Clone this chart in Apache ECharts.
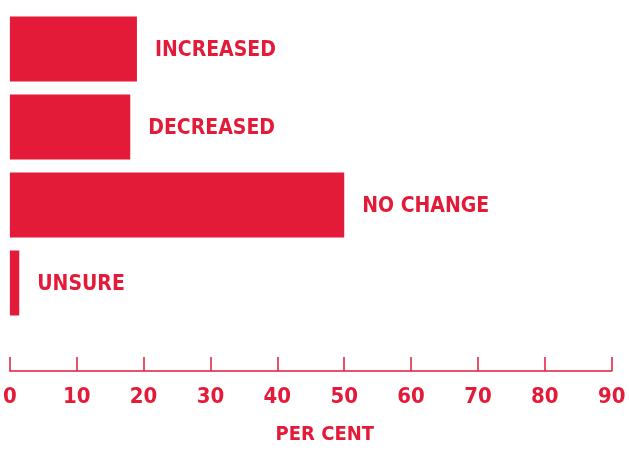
<!DOCTYPE html>
<html>
<head>
<meta charset="utf-8">
<script src="https://cdn.jsdelivr.net/npm/echarts@6/dist/echarts.min.js"></script>
<style>html,body{margin:0;padding:0;background:#fff;}#c{width:629px;height:454px;}</style>
</head>
<body>
<div id="c"></div>
<script>
const categories = ['INCREASED', 'DECREASED', 'NO CHANGE', 'UNSURE'];
const values = [19, 18, 50, 1.4];
const xTicks = [0, 10, 20, 30, 40, 50, 60, 70, 80, 90];
const axisName = 'PER CENT';

const RED = '#e31a38';
const FONT = '"Liberation Sans Narrow", "Arial Narrow", "DejaVu Sans Condensed", sans-serif';

const chart = echarts.init(document.getElementById('c'), null, {renderer: 'canvas'});
chart.setOption({
  animation: false,
  backgroundColor: '#fff',
  grid: {left: 9.7, right: 17.3, top: 10, height: 312, containLabel: false},
  xAxis: {
    type: 'value',
    min: xTicks[0], max: xTicks[xTicks.length - 1], interval: 10,
    position: 'bottom',
    offset: 49,
    name: axisName,
    nameLocation: 'middle',
    nameGap: 54,
    nameTextStyle: {color: RED, fontFamily: FONT, fontWeight: 'bold', fontSize: 20, padding: [0, 0, 0, 28]},
    axisLine: {show: true, lineStyle: {color: RED, width: 1.5}},
    axisTick: {show: true, inside: true, length: 14, lineStyle: {color: RED, width: 1.5}},
    axisLabel: {color: RED, fontFamily: FONT, fontWeight: 'bold', fontSize: 22, margin: 15},
    splitLine: {show: false}
  },
  yAxis: {
    type: 'category',
    data: categories,
    inverse: true,
    axisLine: {show: false},
    axisTick: {show: false},
    axisLabel: {show: false}
  },
  series: [{
    type: 'bar',
    data: values,
    barWidth: 65,
    itemStyle: {color: RED},
    label: {
      show: true,
      position: 'right',
      distance: 18,
      offset: [0, 2],
      formatter: p => categories[p.dataIndex],
      color: RED,
      fontFamily: FONT,
      fontWeight: 'bold',
      fontSize: 21
    }
  }]
});
</script>
</body>
</html>
